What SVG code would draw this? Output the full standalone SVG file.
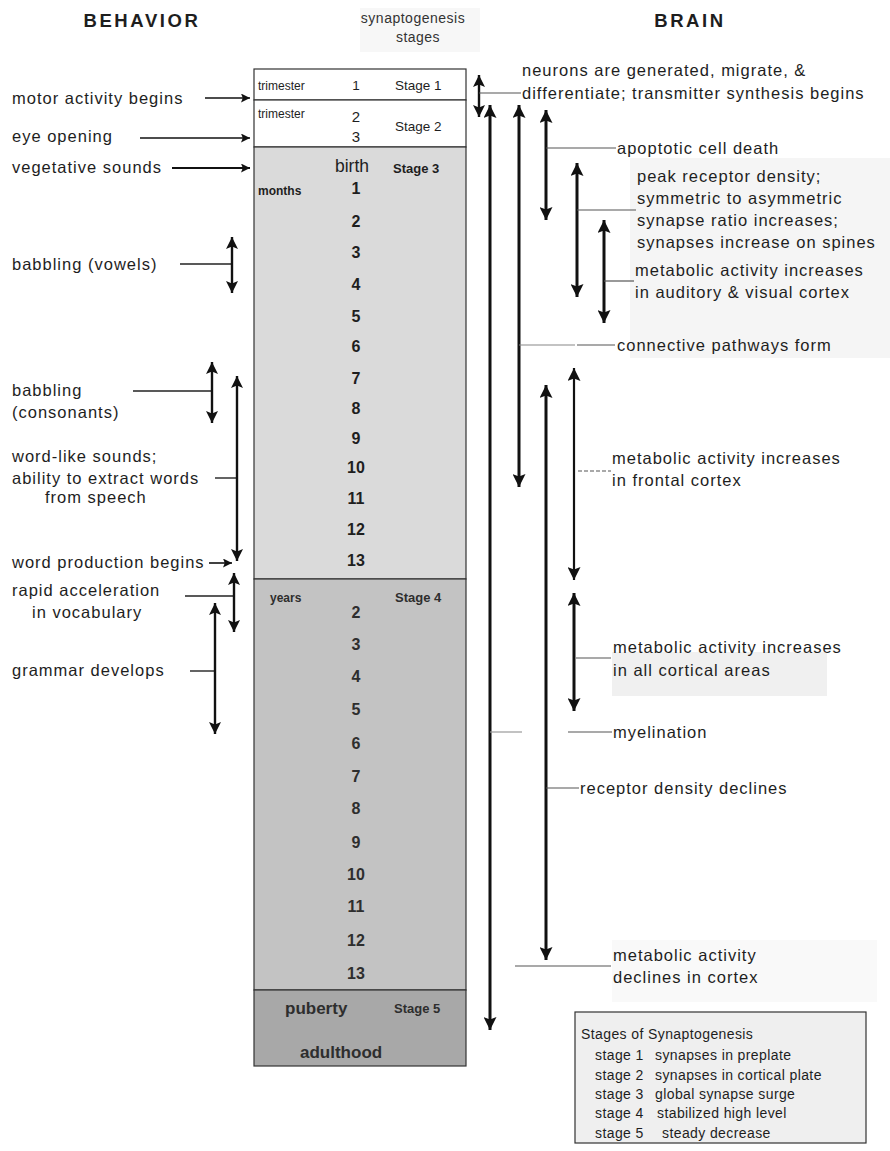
<svg xmlns="http://www.w3.org/2000/svg" width="890" height="1151" viewBox="0 0 890 1151">
<style>
text{font-family:"Liberation Sans",Arial,sans-serif;fill:#1e1e1e}
.hdr{font-size:18.5px;font-weight:bold;letter-spacing:2.6px}
.sub{font-size:14px;letter-spacing:0.5px;fill:#333}
.lbl{font-size:16.5px;letter-spacing:1px}
.sm{font-size:12px}
.st{font-size:13.5px}
.stb{font-size:13px;font-weight:bold}
.num{font-size:16px;font-weight:bold;text-anchor:middle}
.dk{fill:#2e2e2e}
.leg{font-size:14px;letter-spacing:0.4px}
.arr{stroke:#111;stroke-width:3;fill:none;marker-start:url(#ah);marker-end:url(#ah)}
.arl{stroke:#111;stroke-width:2.4;fill:none;marker-start:url(#ahs);marker-end:url(#ahs)}
.harr{stroke:#111;stroke-width:1.6;fill:none;marker-end:url(#ahh)}
.ln{stroke:#222;stroke-width:1.4;fill:none}
.lg{stroke:#555;stroke-width:1.2;fill:none}
</style>
<defs>
<marker id="ah" viewBox="0 0 10 10" refX="10" refY="5" markerUnits="userSpaceOnUse" markerWidth="17" markerHeight="13" orient="auto-start-reverse">
<path d="M0,0 L10,5 L0,10 L2,5 z" fill="#111"/>
</marker>
<marker id="ahs" viewBox="0 0 10 10" refX="10" refY="5" markerUnits="userSpaceOnUse" markerWidth="14" markerHeight="12" orient="auto-start-reverse">
<path d="M0,0 L10,5 L0,10 L2,5 z" fill="#111"/>
</marker>
<marker id="ahh" viewBox="0 0 10 10" refX="10" refY="5" markerUnits="userSpaceOnUse" markerWidth="14" markerHeight="9" orient="auto">
<path d="M0,0 L10,5 L0,10 L2,5 z" fill="#111"/>
</marker>
</defs>
<rect width="890" height="1151" fill="#fff"/>

<!-- faint backgrounds behind some labels -->
<rect x="360" y="8" width="120" height="44" fill="#f7f7f7"/>
<rect x="630" y="158" width="260" height="200" fill="#f5f5f5"/>
<rect x="612" y="652" width="215" height="44" fill="#f0f0f0"/>
<rect x="612" y="940" width="265" height="62" fill="#f9f9f9"/>

<g id="headers">
<text class="hdr" x="142" y="27" text-anchor="middle">BEHAVIOR</text>
<text class="hdr" x="690" y="27" text-anchor="middle">BRAIN</text>
<text class="sub" x="413" y="23" text-anchor="middle">synaptogenesis</text>
<text class="sub" x="418" y="42" text-anchor="middle">stages</text>
</g>

<g id="stage1">
<rect x="254" y="69" width="212" height="31" fill="#fff" stroke="#333" stroke-width="1.2"/>
<text class="sm" x="258" y="90">trimester</text>
<text class="st" x="356" y="90" text-anchor="middle">1</text>
<text class="st" x="395" y="90">Stage 1</text>
</g>
<g id="stage2">
<rect x="254" y="100" width="212" height="47" fill="#fff" stroke="#333" stroke-width="1.2"/>
<text class="sm" x="258" y="118">trimester</text>
<text class="st" x="356" y="122" text-anchor="middle" style="font-size:15px">2</text>
<text class="st" x="356" y="142" text-anchor="middle" style="font-size:15px">3</text>
<text class="st" x="395" y="131">Stage 2</text>
</g>
<g id="stage3">
<rect x="254" y="147" width="212" height="432" fill="#dadada" stroke="#333" stroke-width="1.2"/>
<text x="352" y="172" text-anchor="middle" style="font-size:17.5px">birth</text>
<text class="stb" x="393" y="173">Stage 3</text>
<text class="stb" x="258" y="195" style="font-size:12px">months</text>
<text class="num" x="356" y="194">1</text>
<text class="num" x="356" y="227">2</text>
<text class="num" x="356" y="258">3</text>
<text class="num" x="356" y="290">4</text>
<text class="num" x="356" y="322">5</text>
<text class="num" x="356" y="352">6</text>
<text class="num" x="356" y="384">7</text>
<text class="num" x="356" y="414">8</text>
<text class="num" x="356" y="444">9</text>
<text class="num" x="356" y="473">10</text>
<text class="num" x="356" y="504">11</text>
<text class="num" x="356" y="535">12</text>
<text class="num" x="356" y="566">13</text>
</g>
<g id="stage4">
<rect x="254" y="579" width="212" height="411" fill="#c3c3c3" stroke="#333" stroke-width="1.2"/>
<text class="stb dk" x="270" y="602" style="font-size:12px">years</text>
<text class="stb dk" x="395" y="602">Stage 4</text>
<text class="num dk" x="356" y="618">2</text>
<text class="num dk" x="356" y="650">3</text>
<text class="num dk" x="356" y="682">4</text>
<text class="num dk" x="356" y="715">5</text>
<text class="num dk" x="356" y="749">6</text>
<text class="num dk" x="356" y="782">7</text>
<text class="num dk" x="356" y="814">8</text>
<text class="num dk" x="356" y="848">9</text>
<text class="num dk" x="356" y="880">10</text>
<text class="num dk" x="356" y="912">11</text>
<text class="num dk" x="356" y="946">12</text>
<text class="num dk" x="356" y="979">13</text>
</g>
<g id="stage5">
<rect x="254" y="990" width="212" height="76" fill="#a8a8a8" stroke="#333" stroke-width="1.2"/>
<text class="dk" x="285" y="1014" style="font-size:17px;font-weight:bold">puberty</text>
<text class="stb dk" x="394" y="1013">Stage 5</text>
<text class="dk" x="300" y="1058" style="font-size:17px;font-weight:bold">adulthood</text>
</g>

<g id="behavior-labels">
<text class="lbl" x="12" y="104">motor activity begins</text>
<text class="lbl" x="12" y="142">eye opening</text>
<text class="lbl" x="12" y="173">vegetative sounds</text>
<text class="lbl" x="12" y="270">babbling (vowels)</text>
<text class="lbl" x="12" y="396">babbling</text>
<text class="lbl" x="12" y="418">(consonants)</text>
<text class="lbl" x="12" y="462">word-like sounds;</text>
<text class="lbl" x="12" y="484">ability to extract words</text>
<text class="lbl" x="45" y="503">from speech</text>
<text class="lbl" x="12" y="568">word production begins</text>
<text class="lbl" x="12" y="596">rapid acceleration</text>
<text class="lbl" x="32" y="618">in vocabulary</text>
<text class="lbl" x="12" y="676">grammar develops</text>
</g>

<g id="brain-labels">
<text class="lbl" x="522" y="76">neurons are generated, migrate, &amp;</text>
<text class="lbl" x="522" y="99">differentiate; transmitter synthesis begins</text>
<text class="lbl" x="617" y="154">apoptotic cell death</text>
<text class="lbl" x="637" y="182">peak receptor density;</text>
<text class="lbl" x="637" y="204">symmetric to asymmetric</text>
<text class="lbl" x="637" y="226">synapse ratio increases;</text>
<text class="lbl" x="637" y="248">synapses increase on spines</text>
<text class="lbl" x="635" y="276">metabolic activity increases</text>
<text class="lbl" x="635" y="298">in auditory &amp; visual cortex</text>
<text class="lbl" x="617" y="351">connective pathways form</text>
<text class="lbl" x="612" y="464">metabolic activity increases</text>
<text class="lbl" x="612" y="486">in frontal cortex</text>
<text class="lbl" x="613" y="653">metabolic activity increases</text>
<text class="lbl" x="613" y="676">in all cortical areas</text>
<text class="lbl" x="613" y="738">myelination</text>
<text class="lbl" x="580" y="794">receptor density declines</text>
<text class="lbl" x="613" y="961">metabolic activity</text>
<text class="lbl" x="613" y="983">declines in cortex</text>
</g>

<g id="connectors">
<!-- behavior side -->
<line class="harr" x1="205" y1="98" x2="250" y2="98"/>
<line class="harr" x1="140" y1="138" x2="250" y2="138"/>
<line class="harr" x1="172" y1="168" x2="250" y2="168" style="stroke-width:2.2"/>
<line class="ln" x1="180" y1="264" x2="232" y2="264"/>
<line class="arl" x1="232" y1="237" x2="232" y2="293"/>
<line class="ln" x1="133" y1="391" x2="212" y2="391"/>
<line class="arl" x1="212" y1="362" x2="212" y2="423"/>
<line class="ln" x1="215" y1="478" x2="237" y2="478"/>
<line class="arl" x1="237" y1="376" x2="237" y2="561"/>
<line class="harr" x1="209" y1="563" x2="232" y2="563"/>
<line class="ln" x1="185" y1="596" x2="234" y2="596"/>
<line class="arl" x1="234" y1="573" x2="234" y2="632"/>
<line class="ln" x1="190" y1="671" x2="215" y2="671"/>
<line class="arl" x1="215" y1="603" x2="215" y2="734"/>
<!-- brain side -->
<line class="arl" x1="479" y1="75" x2="479" y2="117"/>
<line class="lg" x1="479" y1="93" x2="521" y2="93"/>
<line class="arr" x1="490" y1="105" x2="490" y2="1030"/>
<line class="lg" x1="490" y1="732" x2="522" y2="732" style="stroke:#999"/>
<line class="lg" x1="568" y1="732" x2="612" y2="732"/>
<line class="arr" x1="519" y1="105" x2="519" y2="487"/>
<line class="lg" x1="519" y1="345" x2="575" y2="345" style="stroke:#888"/>
<line class="lg" x1="577" y1="345" x2="615" y2="345"/>
<line class="arr" x1="546" y1="110" x2="546" y2="220"/>
<line class="lg" x1="546" y1="148" x2="616" y2="148"/>
<line class="arr" x1="577" y1="163" x2="577" y2="297"/>
<line class="lg" x1="577" y1="210" x2="636" y2="210"/>
<line class="arr" x1="604" y1="220" x2="604" y2="323"/>
<line class="lg" x1="604" y1="281" x2="634" y2="281"/>
<line class="arr" x1="546" y1="385" x2="546" y2="960"/>
<line class="lg" x1="546" y1="788" x2="579" y2="788"/>
<line class="lg" x1="515" y1="966" x2="611" y2="966"/>
<line class="arr" x1="574" y1="368" x2="574" y2="580" style="stroke-width:2.2"/>
<line class="lg" x1="578" y1="471" x2="611" y2="471" style="stroke-dasharray:4 2"/>
<line class="arr" x1="574" y1="593" x2="574" y2="711"/>
<line class="lg" x1="576" y1="658" x2="611" y2="658"/>
</g>

<g id="legend">
<rect x="575" y="1012" width="291" height="131" fill="#efefef" stroke="#333" stroke-width="1.2"/>
<text class="leg" x="581" y="1039">Stages of Synaptogenesis</text>
<text class="leg" x="595" y="1060">stage 1</text>
<text class="leg" x="655" y="1060">synapses in preplate</text>
<text class="leg" x="595" y="1080">stage 2</text>
<text class="leg" x="655" y="1080">synapses in cortical plate</text>
<text class="leg" x="595" y="1099">stage 3</text>
<text class="leg" x="655" y="1099">global synapse surge</text>
<text class="leg" x="595" y="1118">stage 4</text>
<text class="leg" x="657" y="1118">stabilized high level</text>
<text class="leg" x="595" y="1138">stage 5</text>
<text class="leg" x="662" y="1138">steady decrease</text>
</g>
</svg>
